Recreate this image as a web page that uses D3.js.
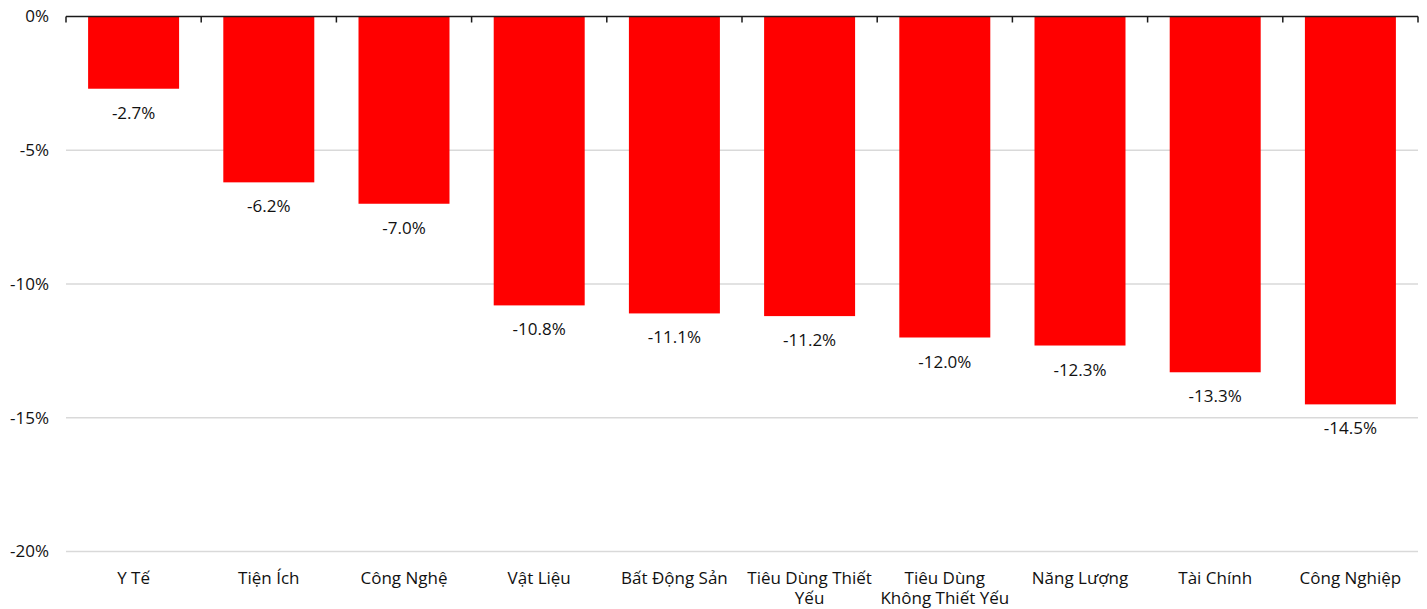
<!DOCTYPE html>
<html>
<head>
<meta charset="utf-8">
<script src="https://cdn.jsdelivr.net/npm/d3@7"></script>
<style>
  html, body { margin: 0; padding: 0; background: #fff; }
  svg { display: block; }
  text { font-family: "Open Sans", "Noto Sans", sans-serif; fill: #111; }
</style>
</head>
<body>
<svg id="chart" width="1427" height="609"></svg>
<script>
// Sector performance (%), one bar per sector
const categories = [
  "Y Tế",
  "Tiện Ích",
  "Công Nghệ",
  "Vật Liệu",
  "Bất Động Sản",
  "Tiêu Dùng Thiết\nYếu",
  "Tiêu Dùng\nKhông Thiết Yếu",
  "Năng Lượng",
  "Tài Chính",
  "Công Nghiệp"
];
const values = [-2.7, -6.2, -7.0, -10.8, -11.1, -11.2, -12.0, -12.3, -13.3, -14.5];
const yTicks = [0, -5, -10, -15, -20];

const svg = d3.select("#chart");
const plotLeft = 66, plotRight = 1418, plotTop = 16.5, plotBottom = 551.5;
const fontSize = "17px";

const x = d3.scaleBand()
  .domain(categories)
  .range([plotLeft, plotRight])
  .paddingInner(0.327)
  .paddingOuter(0.1635);

const y = d3.scaleLinear().domain([-20, 0]).range([plotBottom, plotTop]);

// gridlines below zero
svg.append("g")
  .selectAll("line")
  .data(yTicks.filter(d => d !== 0))
  .join("line")
  .attr("x1", plotLeft).attr("x2", plotRight)
  .attr("y1", d => y(d)).attr("y2", d => y(d))
  .attr("stroke", "#d9d9d9")
  .attr("stroke-width", 1.5);

// y axis labels
svg.append("g")
  .selectAll("text")
  .data(yTicks)
  .join("text")
  .attr("x", 49)
  .attr("y", d => y(d))
  .attr("dy", "0.35em")
  .attr("text-anchor", "end")
  .style("font-size", fontSize)
  .text(d => d + "%");

// bars
svg.append("g")
  .selectAll("rect")
  .data(values)
  .join("rect")
  .attr("x", (d, i) => x(categories[i]))
  .attr("width", x.bandwidth())
  .attr("y", y(0))
  .attr("height", d => y(d) - y(0))
  .attr("fill", "#ff0000");

// value labels beneath each bar
svg.append("g")
  .selectAll("text")
  .data(values)
  .join("text")
  .attr("x", (d, i) => x(categories[i]) + x.bandwidth() / 2)
  .attr("y", d => y(d) + 30)
  .attr("text-anchor", "middle")
  .style("font-size", fontSize)
  .text(d => d.toFixed(1) + "%");

// zero axis with category boundary ticks
const axis = svg.append("g");
axis.append("line")
  .attr("x1", plotLeft).attr("x2", plotRight)
  .attr("y1", y(0)).attr("y2", y(0))
  .attr("stroke", "#1a1a1a")
  .attr("stroke-width", 1.5);
const bounds = d3.range(categories.length + 1)
  .map(i => plotLeft + i * (plotRight - plotLeft) / categories.length);
axis.selectAll(".tk")
  .data(bounds)
  .join("line")
  .attr("class", "tk")
  .attr("x1", d => d).attr("x2", d => d)
  .attr("y1", y(0)).attr("y2", y(0) + 6)
  .attr("stroke", "#1a1a1a")
  .attr("stroke-width", 1.5);

// category labels, one text element per wrapped line
const lineData = categories.flatMap(c =>
  c.split("\n").map((line, i) => ({ cat: c, line, i })));
svg.append("g")
  .selectAll("text")
  .data(lineData)
  .join("text")
  .attr("x", d => x(d.cat) + x.bandwidth() / 2)
  .attr("y", d => 584 + d.i * 19.5)
  .attr("text-anchor", "middle")
  .style("font-size", fontSize)
  .text(d => d.line);
</script>
</body>
</html>
